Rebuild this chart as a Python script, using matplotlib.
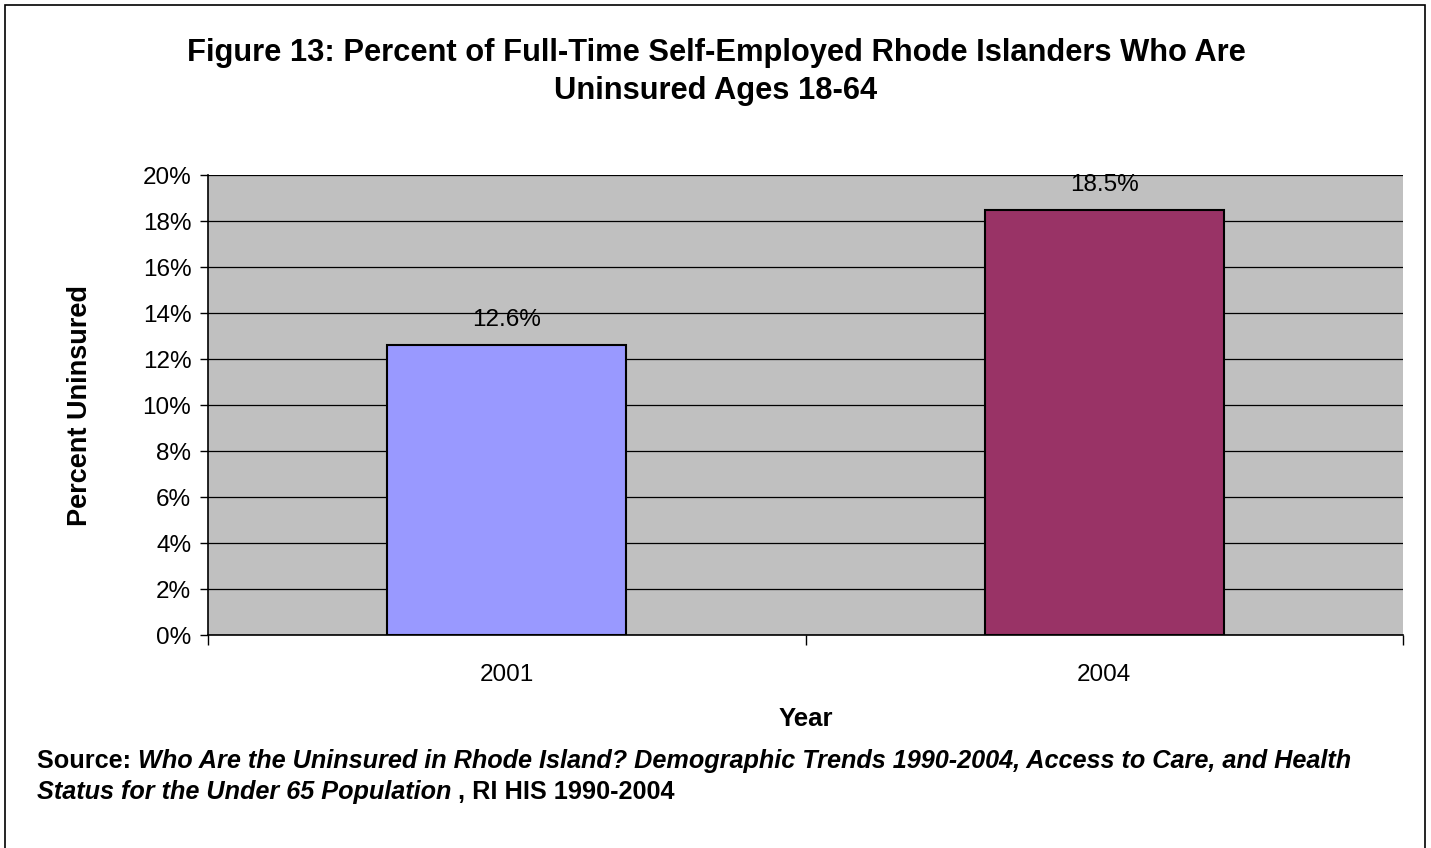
import matplotlib.pyplot as plt
from matplotlib.patches import Rectangle
from matplotlib.ticker import FixedLocator

plt.rcParams['font.family'] = ['Liberation Sans', 'DejaVu Sans']

years = ['2001', '2004']
pct_uninsured = [12.6, 18.5]
bar_colors = ['#9999FF', '#993366']
y_ticks = [0, 2, 4, 6, 8, 10, 12, 14, 16, 18, 20]

fig = plt.figure(figsize=(14.31, 8.48), dpi=100)
W, H = 1431, 848

# outer frame of the chart
fig.patches.append(Rectangle((5 / W, -0.01), 1420 / W, 1.01 - 5 / H, transform=fig.transFigure,
                             fill=False, edgecolor='black', linewidth=1.2))

ax = fig.add_axes([208 / W, 1 - 635 / H, (1403 - 208) / W, (635 - 175) / H])
ax.set_facecolor('#C0C0C0')

x = range(len(years))
bars = ax.bar(x, pct_uninsured, width=0.4, color=bar_colors, edgecolor='black', linewidth=1.5, zorder=3)
for xi, v in zip(x, pct_uninsured):
    ax.text(xi, v + 0.6, f'{v:.1f}%', ha='center', va='bottom', fontsize=17.5, zorder=4)

ax.set_xlim(-0.5, len(years) - 0.5)
ax.set_ylim(0, 20)
ax.set_yticks(y_ticks)
ax.set_yticklabels([f'{t}%' for t in y_ticks], fontsize=17.5)
ax.yaxis.grid(True, color='black', linewidth=0.9)
ax.set_axisbelow(True)

ax.set_xticks(list(x))
ax.set_xticklabels(years, fontsize=17.5)
ax.xaxis.set_minor_locator(FixedLocator([-0.5, 0.5, 1.5]))
ax.tick_params(axis='x', which='major', length=0, pad=21)
ax.tick_params(axis='x', which='minor', length=7, width=1, direction='out')
ax.tick_params(axis='y', length=6, width=1, direction='out', pad=6)

ax.spines['right'].set_visible(False)
ax.spines['top'].set_visible(False)
for s in ['left', 'bottom']:
    ax.spines[s].set_linewidth(1.2)

ax.set_xlabel('Year', fontsize=18.5, fontweight='bold', labelpad=15)
ax.set_ylabel('Percent Uninsured', fontsize=19.5, fontweight='bold', labelpad=36)

fig.text(716 / W, 1 - 72 / H,
         'Figure 13: Percent of Full-Time Self-Employed Rhode Islanders Who Are\nUninsured Ages 18-64',
         ha='center', va='center', fontsize=22.2, fontweight='bold', linespacing=1.35)

# source note with mixed bold / bold-italic pieces
renderer = fig.canvas.get_renderer()


def put_pieces(pieces, x0, y0):
    xpos = x0
    for txt, style in pieces:
        t = fig.text(xpos / W, 1 - y0 / H, txt, ha='left', va='baseline', fontsize=18.2,
                     fontweight='bold', fontstyle=style)
        bb = t.get_window_extent(renderer=renderer)
        xpos += bb.width


put_pieces([('Source: ', 'normal'),
            ('Who Are the Uninsured in Rhode Island? Demographic Trends 1990-2004, Access to Care, and Health', 'italic')],
           37, 768)
put_pieces([('Status for the Under 65 Population', 'italic'), (' , RI HIS 1990-2004', 'normal')], 37, 799)

fig.savefig('out.png', dpi=100)
